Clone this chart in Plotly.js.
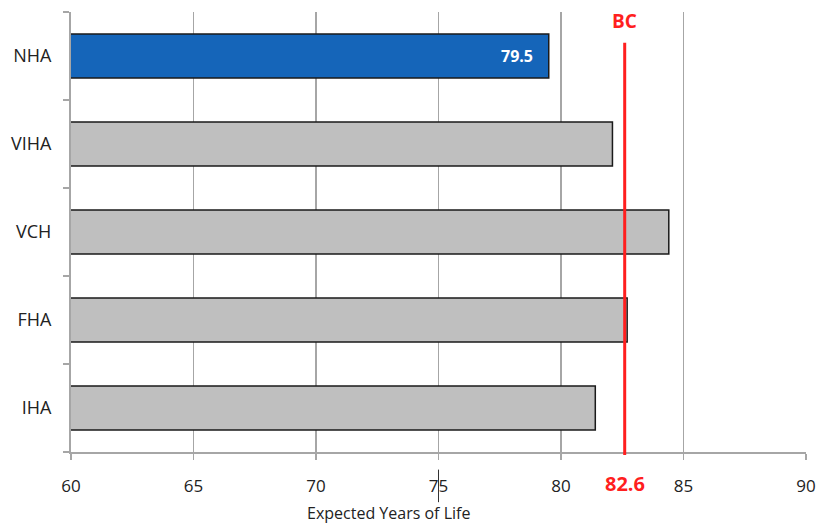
<!DOCTYPE html>
<html>
<head>
<meta charset="utf-8">
<script src="https://cdn.plot.ly/plotly-3.0.1.min.js"></script>
<style>html,body{margin:0;padding:0;background:#fff;}#chart{width:819px;height:526px;}</style>
</head>
<body>
<div id="chart"></div>
<script>
const regions = ["NHA", "VIHA", "VCH", "FHA", "IHA"];
const lifeExpectancy = [79.5, 82.1, 84.4, 82.7, 81.4];
const highlighted = "NHA";
const bcValue = 82.6;
const bcLabel = "BC";
const xTicks = [60, 65, 70, 75, 80, 85, 90];
const axisTitle = "Expected Years of Life";

const colors = regions.map(r => r === highlighted ? "#1565b9" : "#bfbfbf");
const font = "'Open Sans', 'Noto Sans', sans-serif";

const trace = {
  type: "bar",
  orientation: "h",
  y: regions,
  x: lifeExpectancy,
  width: 0.5,
  marker: {color: colors, line: {color: "#1a1a1a", width: 1.5}},
  hoverinfo: "none"
};

const hi = regions.indexOf(highlighted);

const layout = {
  width: 819, height: 526,
  margin: {l: 71, r: 13, t: 12, b: 74},
  paper_bgcolor: "#ffffff", plot_bgcolor: "#ffffff",
  showlegend: false,
  font: {family: font, color: "#222"},
  xaxis: {
    range: [60, 90],
    tickvals: xTicks,
    ticktext: xTicks.map(String),
    showgrid: true, gridcolor: "#a6a6a6", gridwidth: 1.5,
    showline: true, linecolor: "#a6a6a6", linewidth: 2,
    ticks: "outside", ticklen: 6, tickcolor: "#a6a6a6", tickwidth: 1.5,
    ticklabelstandoff: 12,
    tickfont: {size: 17, color: "#222", family: font},
    zeroline: false, fixedrange: true
  },
  yaxis: {
    type: "category",
    categoryorder: "array",
    categoryarray: regions.slice().reverse(),
    showgrid: false,
    showline: true, linecolor: "#a6a6a6", linewidth: 2,
    ticks: "outside", ticklen: 6, tickcolor: "#a6a6a6", tickwidth: 1.5,
    tickson: "boundaries",
    ticklabelstandoff: 14,
    tickfont: {size: 18, color: "#222", family: font},
    fixedrange: true
  },
  shapes: [
    {type: "line", xref: "x", yref: "paper", x0: bcValue, x1: bcValue, y0: -0.007, y1: 0.93,
     line: {color: "#ff1f1f", width: 3}},
    {type: "line", xref: "x", yref: "paper", x0: 75.0, x1: 75.0, y0: -0.04, y1: -0.114,
     line: {color: "#333", width: 1}}
  ],
  annotations: [
    {xref: "x", yref: "y", x: lifeExpectancy[hi], y: regions[hi], xanchor: "right", xshift: -14,
     text: "<b>" + lifeExpectancy[hi].toFixed(1) + "</b>", showarrow: false,
     font: {size: 16, color: "#ffffff", family: font}},
    {xref: "x", yref: "paper", x: bcValue, y: 1.0, yanchor: "middle", yshift: -9, text: "<b>" + bcLabel + "</b>",
     showarrow: false, font: {size: 19, color: "#ff1f1f", family: font}},
    {xref: "x", yref: "paper", x: bcValue, y: 0, yanchor: "middle", yshift: -31, text: "<b>" + bcValue.toFixed(1) + "</b>",
     showarrow: false, font: {size: 20, color: "#ff1f1f", family: font}},
    {xref: "paper", yref: "paper", x: (388.5 - 71) / 735, y: 0, yanchor: "middle", yshift: -61, text: axisTitle,
     showarrow: false, font: {size: 16, color: "#222", family: font}}
  ]
};

Plotly.newPlot("chart", [trace], layout, {displayModeBar: false, staticPlot: true});
</script>
</body>
</html>
